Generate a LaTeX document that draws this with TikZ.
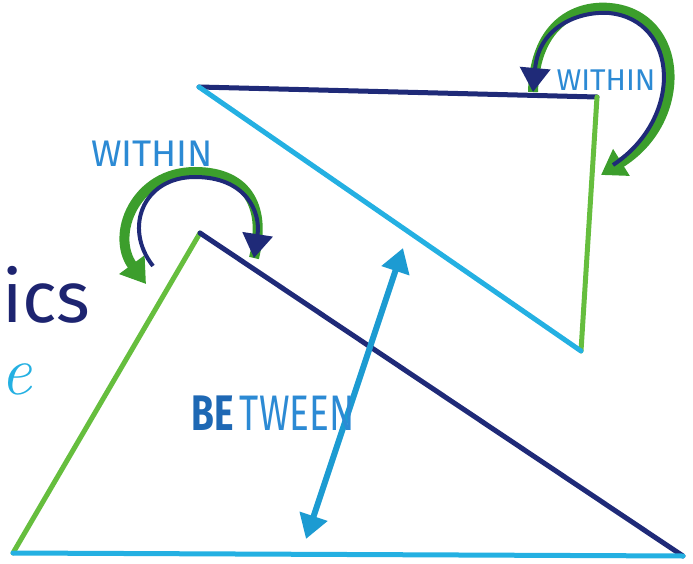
\documentclass[tikz,border=0pt]{standalone}
\usepackage{fontspec}
\setmainfont{Fira Sans}
\usetikzlibrary{arrows.meta}

\definecolor{navyline}{HTML}{1F2A78}
\definecolor{greenline}{HTML}{66BE3E}
\definecolor{greenarc}{HTML}{3C9E2C}
\definecolor{cyanline}{HTML}{24B0E2}
\definecolor{betweenblue}{HTML}{1C9BD2}
\definecolor{labelblue}{HTML}{2C8AD4}
\definecolor{bedark}{HTML}{1E68B4}
\definecolor{icsnavy}{HTML}{1D2470}

\tikzset{
  edge/.style={line width=5pt,line cap=round,line join=round},
  arcgreen/.style={greenarc,line width=10pt},
  arcnavy/.style={navyline,line width=4pt},
  within/.style={text=labelblue,inner sep=0pt},
}

\begin{document}
\begin{tikzpicture}[x=1pt,y=-1pt]
  \useasboundingbox (0,0) rectangle (693,564);
  % ===================== vertices =====================
  \coordinate (tA) at (199,87);
  \coordinate (tB) at (597,97);
  \coordinate (tC) at (581,351);
  \coordinate (bA) at (200,233);
  \coordinate (bL) at (13,553);
  \coordinate (bR) at (683,556);
  % ===================== triangles =====================
  % upper triangle
  \draw[edge,navyline] (tA) -- (tB);
  \draw[edge,greenline] (tB) -- (tC);
  \draw[edge,cyanline] (tA) -- (tC);
  % lower triangle
  \draw[edge,greenline] (bA) -- (bL);
  \draw[edge,navyline] (bA) -- (bR);
  \draw[edge,cyanline] (bL) -- (bR);
  % ===================== arrows =====================
  % between
  \coordinate (btop) at (403,248);
  \coordinate (bbot) at (306,539);
  \draw[betweenblue,line width=6pt,{Triangle[width=28pt,length=24pt]}-{Triangle[width=28pt,length=24pt]}] (bbot) -- (btop);
  % within (lower)
  \draw[arcgreen,{Triangle[width=30pt,length=24pt]}-] (146,284) .. controls (110,235) and (135,172) .. (195,172) .. controls (250,172) and (266,210) .. (254,258);
  \draw[arcnavy,-{Triangle[width=30pt,length=24pt]}] (153,266) .. controls (123,228) and (143,177) .. (195,177) .. controls (246,177) and (261,212) .. (254,258);
  % within (upper)
  \draw[arcgreen,-{Triangle[width=30pt,length=24pt]}] (533,92) .. controls (535,20) and (580,5) .. (610,8) .. controls (685,15) and (690,120) .. (601,175);
  \draw[arcnavy,{Triangle[width=30pt,length=24pt]}-] (533,92) .. controls (539,25) and (581,11) .. (609,13) .. controls (679,20) and (684,118) .. (613,165);
  % ===================== labels =====================
  \node[within,font=\fontsize{37}{40}\selectfont] (withinL) at (152,154) {WITHIN};
  \node[within,font=\fontsize{30}{32}\selectfont] (withinR) at (606,80) {WITHIN};
  \node[inner sep=0pt,yscale=1.35,font=\fontsize{37}{40}\selectfont] (between) at (273,413) {\textcolor{bedark}{\bfseries BE}\,\textcolor{labelblue}{TWEEN}};
  \node[anchor=base west,inner sep=0pt,text depth=0pt,text=icsnavy,font=\fontsize{72}{76}\selectfont] (ics) at (2,322) {ics};
  \node[anchor=base west,inner sep=0pt,text height=32pt,text=cyanline,font=\fontspec{Latin Modern Roman}\fontsize{70}{72}\selectfont\itshape] (cue) at (0,394) {e};
\end{tikzpicture}
\end{document}
